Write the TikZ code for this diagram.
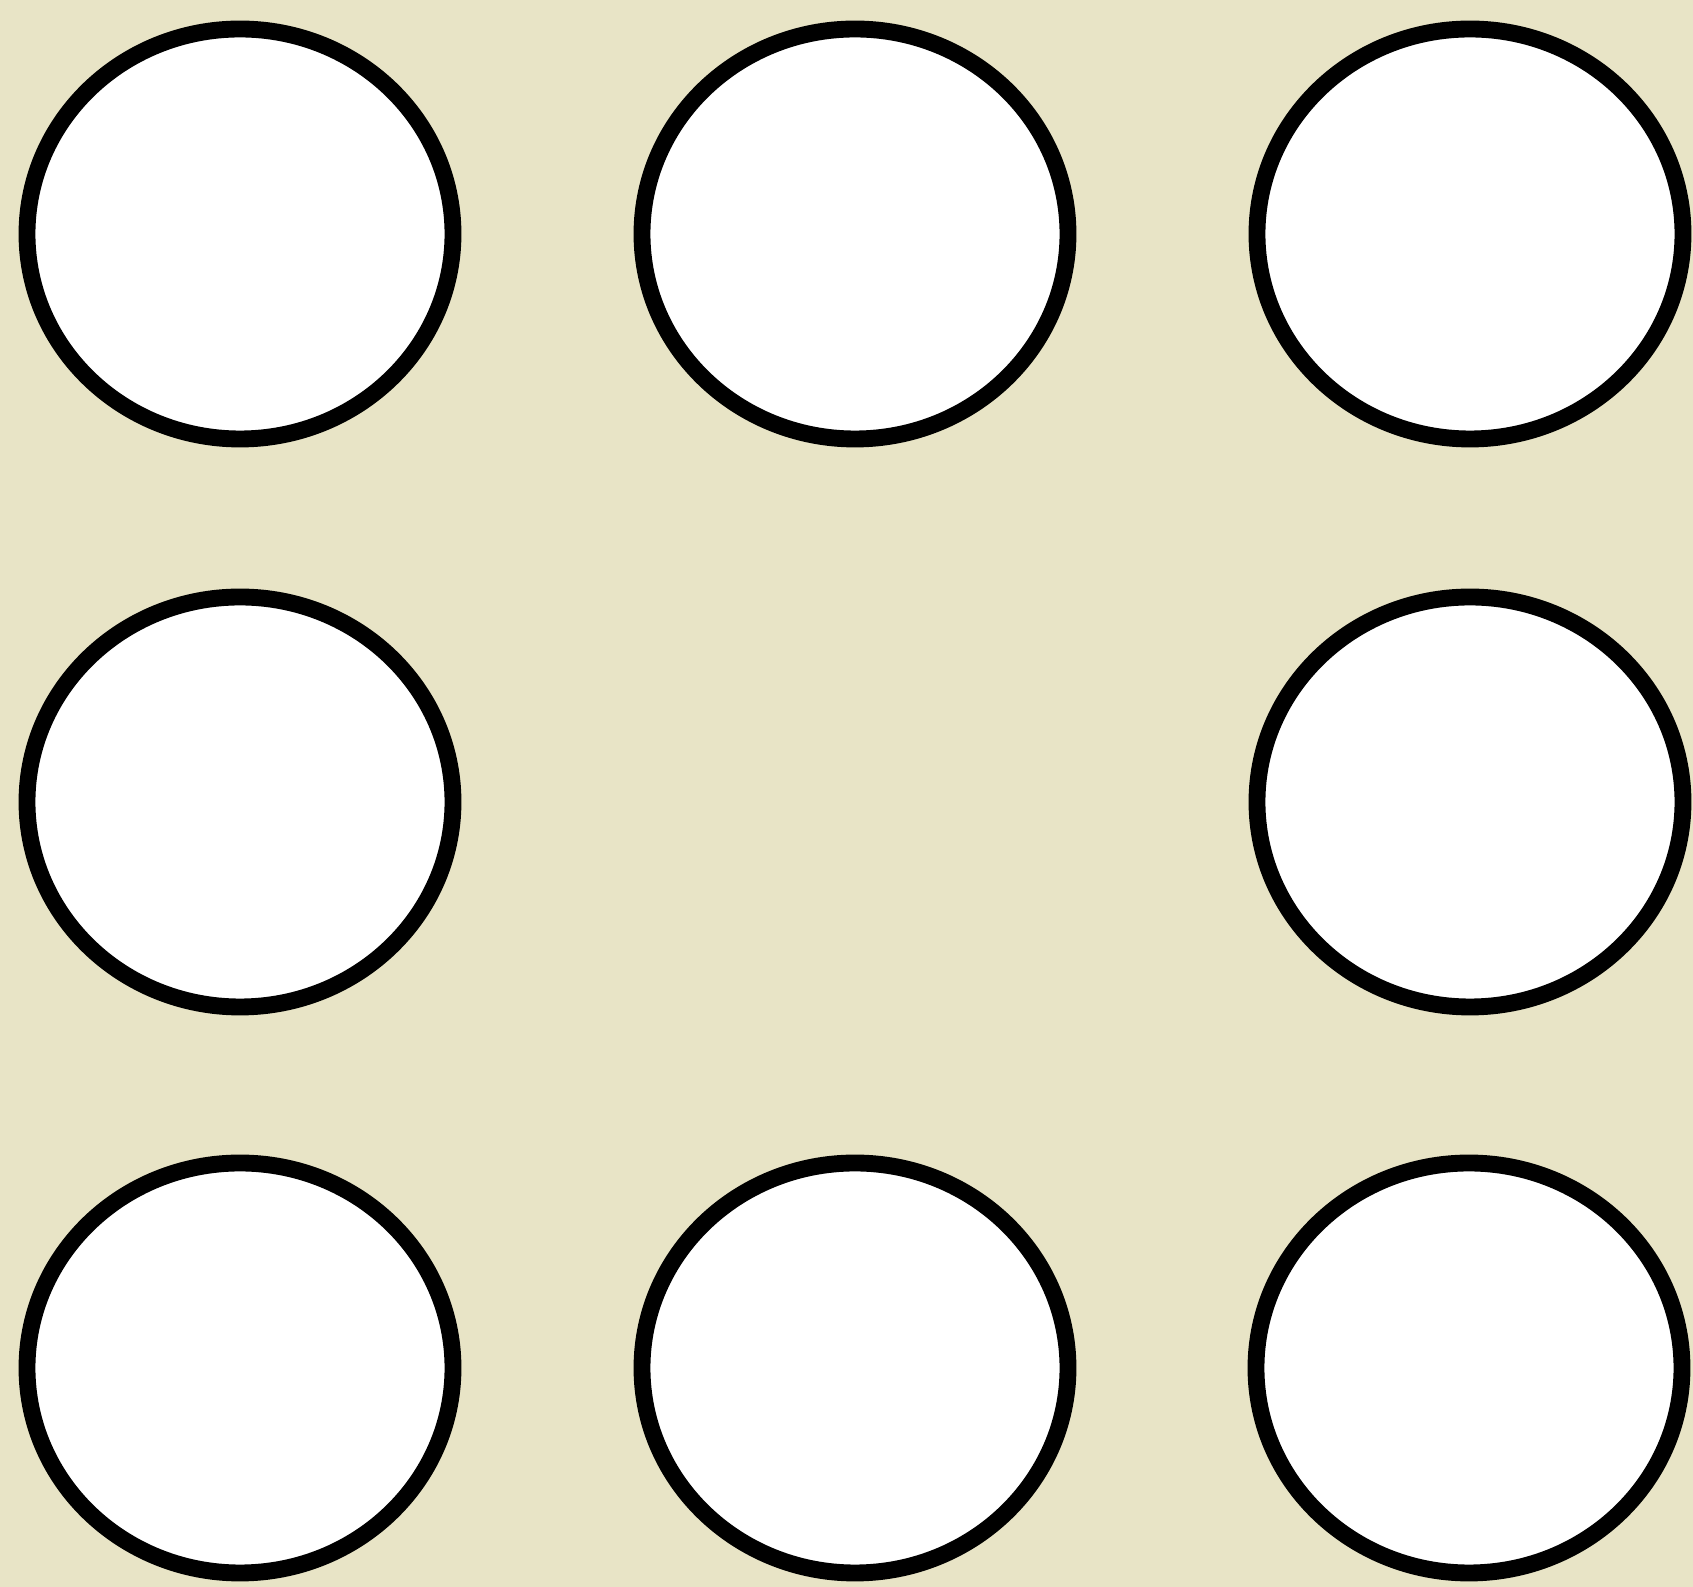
\documentclass[tikz,border=0pt]{standalone}
\usetikzlibrary{shapes.geometric}
\definecolor{bgbeige}{HTML}{E8E4C6}
\begin{document}
\begin{tikzpicture}[
  ring/.style={ellipse, draw=black, fill=white, line width=4.8pt, inner sep=0pt,
    minimum width=4.26cm, minimum height=4.10cm}]
\fill[bgbeige] (0,0) rectangle (16.93,15.87);
\useasboundingbox (0,0) rectangle (16.93,15.87);
\node[ring] (a1) at (2.40,13.53) {};
\node[ring] (a2) at (8.55,13.53) {};
\node[ring] (a3) at (14.70,13.53) {};
\node[ring] (b1) at (2.40,7.85) {};
\node[ring] (b3) at (14.70,7.85) {};
\node[ring] (c1) at (2.40,2.19) {};
\node[ring] (c2) at (8.55,2.19) {};
\node[ring] (c3) at (14.69,2.19) {};
\end{tikzpicture}
\end{document}
